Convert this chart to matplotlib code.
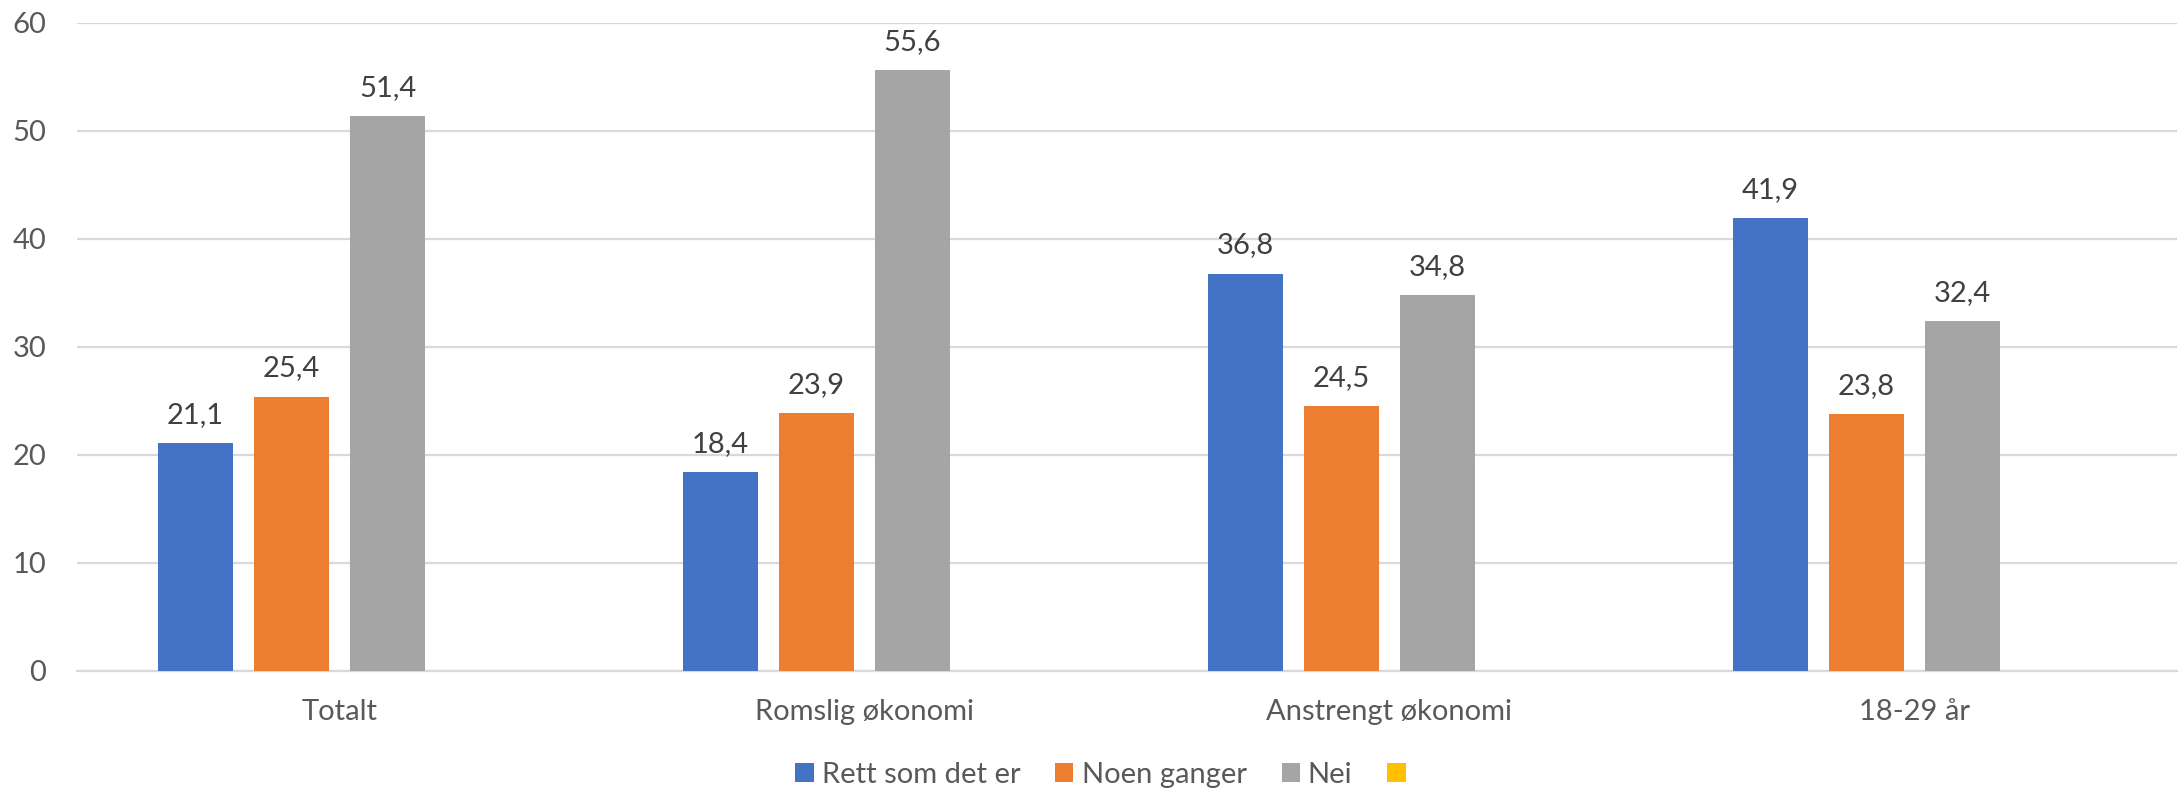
import matplotlib.pyplot as plt
import numpy as np
from matplotlib.patches import Patch

plt.rcParams['font.family'] = ['Lato', 'DejaVu Sans']

categories = ['Totalt', 'Romslig økonomi', 'Anstrengt økonomi', '18-29 år']
series_names = ['Rett som det er', 'Noen ganger', 'Nei', '']
rett_som_det_er = [21.1, 18.4, 36.8, 41.9]
noen_ganger = [25.4, 23.9, 24.5, 23.8]
nei = [51.4, 55.6, 34.8, 32.4]
tom = [np.nan, np.nan, np.nan, np.nan]  # fourth series has no values
colors = ['#4472C4', '#ED7D31', '#A5A5A5', '#FFC000']

TEXT = '#595959'
GRID = '#D9D9D9'
FS = 21

fig = plt.figure(figsize=(21.8, 7.92), dpi=100)
ax = fig.add_axes([0.0353, 0.1528, 0.9633, 0.8182])

x = np.arange(len(categories))
slot = 0.183
width = 0.143
all_series = [rett_som_det_er, noen_ganger, nei, tom]
for i, (vals, col) in enumerate(zip(all_series, colors)):
    offs = (i - 1.5) * slot
    bars = ax.bar(x + offs, vals, width, color=col, zorder=3)
    if i < 3:
        labels = [('%.1f' % v).replace('.', ',') for v in vals]
        ax.bar_label(bars, labels=labels, padding=11, fontsize=FS, color='#404040')

ax.set_xlim(-0.5, 3.5)
ax.set_ylim(0, 60)
ax.set_yticks(range(0, 61, 10))
ax.set_xticks(x)
ax.set_xticklabels(categories)
ax.tick_params(axis='both', length=0, labelsize=FS, labelcolor=TEXT)
ax.tick_params(axis='x', pad=20)
ax.tick_params(axis='y', pad=22)
ax.yaxis.grid(True, color=GRID, linewidth=1.6, zorder=0)
for s in ['top', 'right', 'left']:
    ax.spines[s].set_visible(False)
ax.spines['bottom'].set_color(GRID)
ax.spines['bottom'].set_linewidth(1.6)

handles = [Patch(facecolor=c) for c in colors]
fig.legend(handles, series_names, loc='center', bbox_to_anchor=(0.5067, 0.0215),
           ncol=4, frameon=False, fontsize=FS, labelcolor=TEXT,
           handlelength=0.62, handleheight=0.62, handletextpad=0.28, columnspacing=1.2)

fig.savefig('out.png', dpi=100)
